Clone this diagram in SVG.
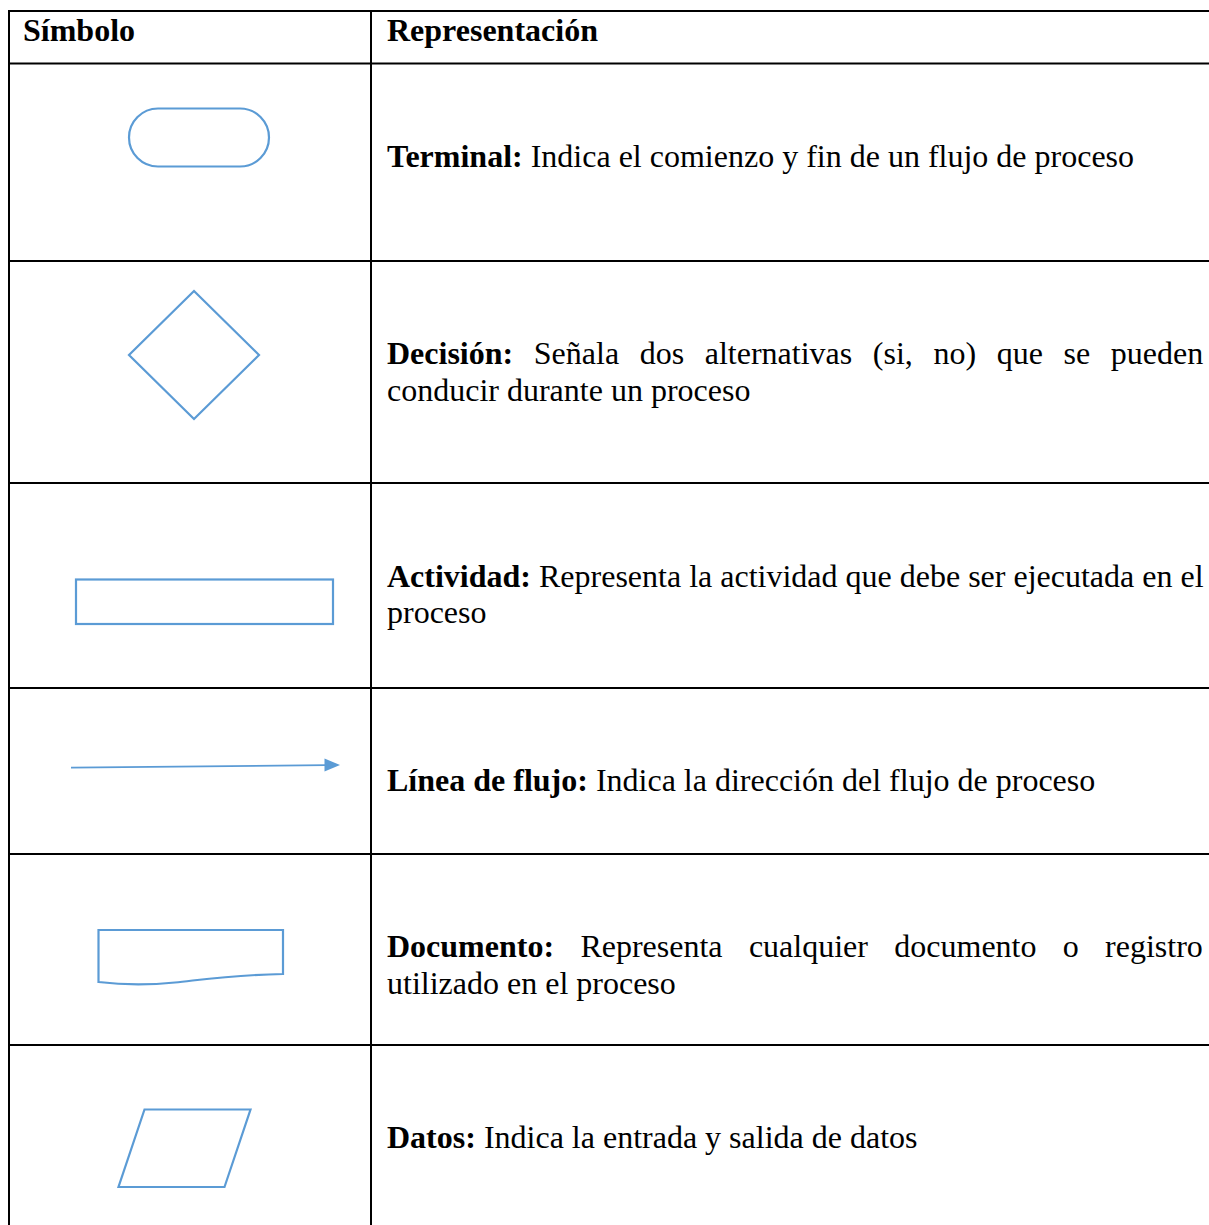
<svg xmlns="http://www.w3.org/2000/svg" width="1209" height="1225" viewBox="0 0 1209 1225">
<style>
.grid{stroke:#000;stroke-width:2;fill:none}
.sym{stroke:#5B9BD5;stroke-width:2.2;fill:#fff}
text{font-family:"Liberation Serif","Times New Roman",serif;font-size:32px;fill:#000}
.b{font-weight:bold}
</style>
<rect width="1209" height="1225" fill="#fff"/>
<g id="table">
<line class="grid" x1="8" y1="11" x2="1209" y2="11"/>
<line class="grid" x1="8" y1="63.5" x2="1209" y2="63.5"/>
<line class="grid" x1="8" y1="261" x2="1209" y2="261"/>
<line class="grid" x1="8" y1="483" x2="1209" y2="483"/>
<line class="grid" x1="8" y1="688" x2="1209" y2="688"/>
<line class="grid" x1="8" y1="854" x2="1209" y2="854"/>
<line class="grid" x1="8" y1="1045" x2="1209" y2="1045"/>
<line class="grid" x1="9" y1="10" x2="9" y2="1225"/>
<line class="grid" x1="371" y1="10" x2="371" y2="1225"/>
</g>
<g id="header">
<text class="b" x="23" y="41">Símbolo</text>
<text class="b" x="387" y="41">Representación</text>
</g>
<g id="terminal">
<rect class="sym" x="129" y="108.5" width="140" height="58" rx="29" ry="29"/>
<text x="387" y="167"><tspan class="b">Terminal:</tspan> Indica el comienzo y fin de un flujo de proceso</text>
</g>
<g id="decision">
<polygon class="sym" points="194,291 259,355 194,419 129,355"/>
<text y="364"><tspan class="b" x="387">Decisión:</tspan><tspan x="533.8">Señala</tspan><tspan x="639.7">dos</tspan><tspan x="704.7">alternativas</tspan><tspan x="872.8">(si,</tspan><tspan x="933.4">no)</tspan><tspan x="996.7">que</tspan><tspan x="1063.5">se</tspan><tspan x="1110.8">pueden</tspan></text>
<text x="387" y="401">conducir durante un proceso</text>
</g>
<g id="actividad">
<rect class="sym" x="76" y="579.5" width="257" height="44.5"/>
<text x="387" y="587"><tspan class="b">Actividad:</tspan> Representa la actividad que debe ser ejecutada en el</text>
<text x="387" y="623">proceso</text>
</g>
<g id="linea-flujo">
<line x1="71" y1="767.7" x2="326" y2="765.2" stroke="#5B9BD5" stroke-width="1.8"/>
<polygon points="324.5,758.5 340,765 324.5,771.5" fill="#5B9BD5"/>
<text x="387" y="791"><tspan class="b">Línea de flujo:</tspan> Indica la dirección del flujo de proceso</text>
</g>
<g id="documento">
<path class="sym" d="M98.5,930 H283 V974 C230,975 200,980 175,982.5 C140,986 115,984 98.5,982 Z"/>
<text y="957"><tspan class="b" x="387">Documento:</tspan><tspan x="580.4">Representa</tspan><tspan x="748.9">cualquier</tspan><tspan x="894.3">documento</tspan><tspan x="1062.8">o</tspan><tspan x="1105.1">registro</tspan></text>
<text x="387" y="994">utilizado en el proceso</text>
</g>
<g id="datos">
<polygon class="sym" points="144.5,1109.5 250.5,1109.5 224.5,1187 118.5,1187"/>
<text x="387" y="1148"><tspan class="b">Datos:</tspan> Indica la entrada y salida de datos</text>
</g>
<g id="connectors"></g>
</svg>
